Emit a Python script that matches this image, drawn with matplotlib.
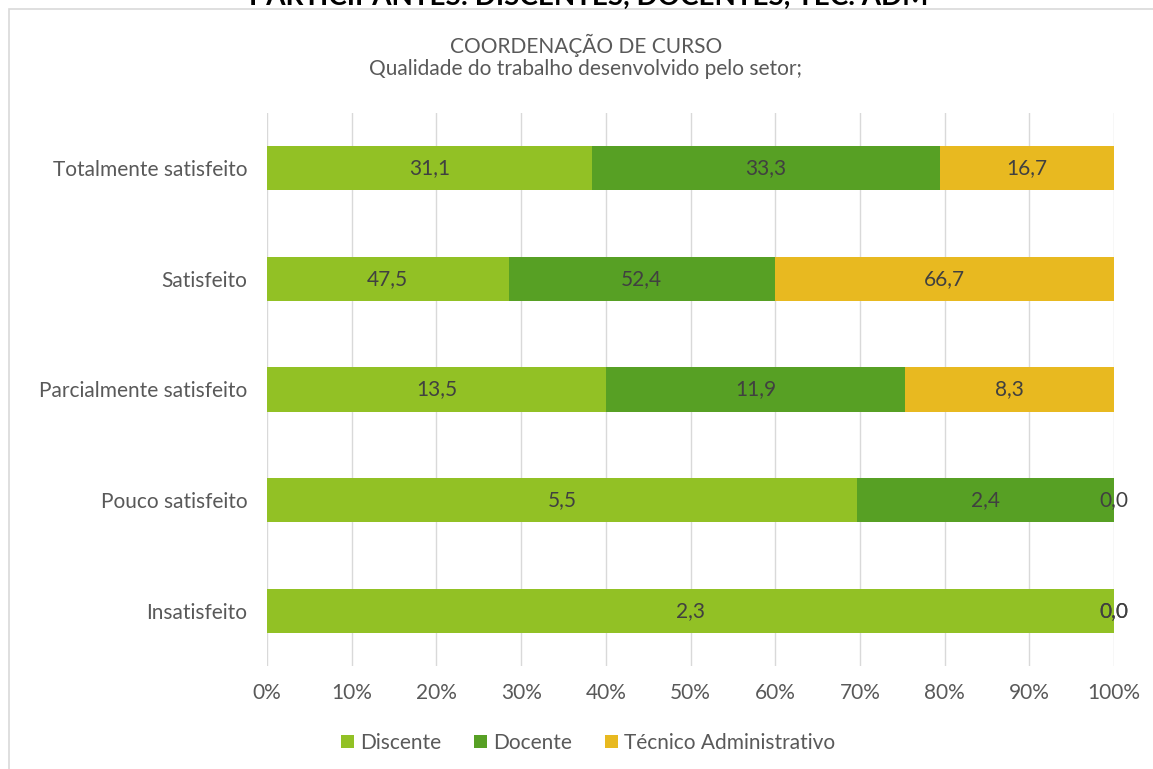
import numpy as np
import matplotlib.pyplot as plt
from matplotlib.patches import Rectangle

# data
categorias = ['Totalmente satisfeito', 'Satisfeito', 'Parcialmente satisfeito',
              'Pouco satisfeito', 'Insatisfeito']
discente = [31.1, 47.5, 13.5, 5.5, 2.3]
docente = [33.3, 52.4, 11.9, 2.4, 0.0]
tecnico = [16.7, 66.7, 8.3, 0.0, 0.0]
series = ['Discente', 'Docente', 'Técnico Administrativo']
cores = ['#92C125', '#57A024', '#E8B920']

plt.rcParams['font.family'] = ['Lato', 'DejaVu Sans']
txt = '#595959'
fs = 15

fig = plt.figure(figsize=(11.53, 7.69), dpi=100)
ax = fig.add_axes([0.2316, 0.1333, 0.7346, 0.7204])

vals = np.array([discente, docente, tecnico])
tot = vals.sum(axis=0)
pct = vals / tot * 100
y = np.arange(len(categorias))
left = np.zeros(len(categorias))
for i in range(3):
    ax.barh(y, pct[i], left=left, height=0.4, color=cores[i], label=series[i], zorder=2)
    for j in range(len(categorias)):
        ax.text(left[j] + pct[i][j] / 2, y[j], f'{vals[i][j]:.1f}'.replace('.', ','),
                ha='center', va='center', fontsize=fs, color='#404040', zorder=3)
    left += pct[i]

ax.set_xlim(0, 100)
ax.set_ylim(len(categorias) - 0.5, -0.5)
ax.set_yticks(y)
ax.set_yticklabels(categorias)
ax.set_xticks(np.arange(0, 101, 10))
ax.set_xticklabels([f'{v}%' for v in range(0, 101, 10)])
ax.tick_params(axis='both', length=0, labelsize=fs, labelcolor=txt)
ax.tick_params(axis='y', pad=14)
ax.tick_params(axis='x', pad=12)
ax.grid(axis='x', color='#D9D9D9', linewidth=1, zorder=0)
for s in ax.spines.values():
    s.set_visible(False)

fig.text(0.508, 0.927, 'COORDENAÇÃO DE CURSO\nQualidade do trabalho desenvolvido pelo setor;',
         ha='center', va='center', fontsize=fs, color=txt, linespacing=1.15)
fig.text(0.511, 1 - 5 / 769, 'PARTICIPANTES: DISCENTES, DOCENTES, TEC. ADM',
         ha='center', va='baseline', fontsize=20, fontweight='bold', color='black')

fig.add_artist(Rectangle((9 / 1153, -0.1), 1.2, 1 - 9 / 769 + 0.1,
                         transform=fig.transFigure, fill=False,
                         edgecolor='#D9D9D9', linewidth=1.2))

fig.legend(loc='center', bbox_to_anchor=(0.51, 0.034), ncol=3, frameon=False,
           fontsize=fs, labelcolor=txt, handlelength=0.6, handleheight=0.6,
           handletextpad=0.3, columnspacing=1.6)

fig.savefig('out.png', dpi=100)
